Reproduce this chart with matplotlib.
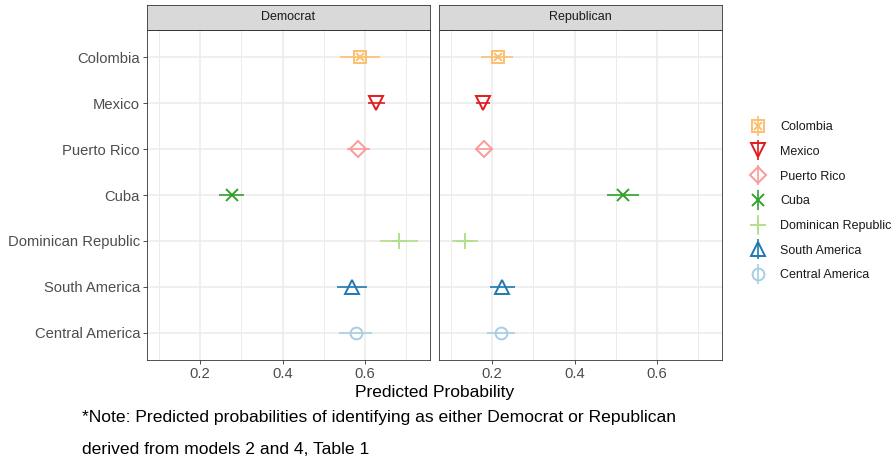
import numpy as np
import matplotlib
matplotlib.use("Agg")
import matplotlib.pyplot as plt
from matplotlib.lines import Line2D
from matplotlib.ticker import MultipleLocator

plt.rcParams['font.family'] = ['Liberation Sans', 'DejaVu Sans']

categories = ["Colombia", "Mexico", "Puerto Rico", "Cuba",
              "Dominican Republic", "South America", "Central America"]
panels = ["Democrat", "Republican"]

dem_est = [0.587, 0.626, 0.583, 0.277, 0.682, 0.568, 0.577]
dem_lo = [0.539, 0.608, 0.555, 0.247, 0.636, 0.532, 0.537]
dem_hi = [0.636, 0.648, 0.611, 0.306, 0.727, 0.605, 0.617]

rep_est = [0.214, 0.178, 0.180, 0.517, 0.134, 0.225, 0.222]
rep_lo = [0.174, 0.162, 0.161, 0.478, 0.103, 0.196, 0.189]
rep_hi = [0.252, 0.196, 0.200, 0.556, 0.166, 0.256, 0.256]

colors = ["#FDBF6F", "#E31A1C", "#FB9A99", "#33A02C", "#B2DF8A", "#1F78B4", "#A6CEE3"]
markers = [["s", "x"], ["v"], ["D"], ["x"], ["+"], ["^"], ["o"]]
msizes = [[8, 5.5], [10], [8], [9], [12], [10], [8.5]]

W, H = 896, 461
fig = plt.figure(figsize=(W / 100, H / 100), dpi=100)

def fx(px):
    return px / W

def fy(py):
    return 1 - py / H

panel_x = [147, 439]
panel_w = 283
top, bottom = 30, 360
strip_top = 5

data = [(dem_est, dem_lo, dem_hi), (rep_est, rep_lo, rep_hi)]
y = np.arange(len(categories))
axes = []
for i, (name, (est, lo, hi)) in enumerate(zip(panels, data)):
    ax = fig.add_axes([fx(panel_x[i]), fy(bottom), panel_w / W, (bottom - top) / H])
    axes.append(ax)
    ax.set_xlim(0.072, 0.757)
    ax.set_ylim(len(categories) - 1 + 0.6, -0.6)
    ax.xaxis.set_major_locator(MultipleLocator(0.2))
    ax.xaxis.set_minor_locator(MultipleLocator(0.1))
    ax.set_xticks([0.2, 0.4, 0.6])
    ax.set_xticklabels(["0.2", "0.4", "0.6"])
    ax.set_yticks(y)
    ax.grid(True, which="major", color="#EBEBEB", linewidth=1.1, zorder=0)
    ax.grid(True, which="minor", axis="x", color="#EBEBEB", linewidth=0.7, zorder=0)
    ax.set_axisbelow(True)
    for sp in ax.spines.values():
        sp.set_color("#333333")
        sp.set_linewidth(0.6)
    ax.tick_params(axis="both", which="major", length=3, width=0.6, color="#333333",
                   labelcolor="#4D4D4D", labelsize=10.6, pad=2)
    ax.tick_params(axis="x", which="minor", length=0)
    if i == 0:
        ax.set_yticklabels(categories)
    else:
        ax.set_yticklabels([])
        ax.tick_params(axis="y", length=0)
    for j in range(len(categories)):
        ax.hlines(y[j], lo[j], hi[j], color=colors[j], linewidth=1.2, zorder=3)
        for m, s in zip(markers[j], msizes[j]):
            ax.plot(est[j], y[j], marker=m, markersize=s, linestyle="None",
                    markerfacecolor="none", markeredgecolor=colors[j],
                    markeredgewidth=1.4, zorder=4)
    # strip
    sax = fig.add_axes([fx(panel_x[i]), fy(top), panel_w / W, (top - strip_top) / H])
    sax.set_facecolor("#D9D9D9")
    sax.set_xticks([])
    sax.set_yticks([])
    for sp in sax.spines.values():
        sp.set_color("#333333")
        sp.set_linewidth(0.6)
    sax.text(0.5, 0.5, name, ha="center", va="center", fontsize=9, color="#1A1A1A",
             transform=sax.transAxes)

fig.text(fx((147 + 722) / 2), fy(393), "Predicted Probability", ha="center", va="center",
         fontsize=12.5, color="black")

note1 = "*Note: Predicted probabilities of identifying as either Democrat or Republican"
note2 = "derived from models 2 and 4, Table 1"
t1 = fig.text(fx(82), fy(417), note1, ha="left", va="center", fontsize=12, color="black")
t2 = fig.text(fx(82), fy(449), note2, ha="left", va="center", fontsize=12, color="black")
fig.canvas.draw()
w = t1.get_window_extent().width
fs = 12 * 596 / w
t1.set_fontsize(fs)
t2.set_fontsize(fs)

handles = []
for j in range(len(categories)):
    parts = [Line2D([], [], marker="|", markersize=14, markeredgewidth=1.2,
                    color=colors[j], linestyle="None")]
    for m, s in zip(markers[j], msizes[j]):
        parts.append(Line2D([], [], marker=m, markersize=s, linestyle="None",
                            markerfacecolor="none", markeredgecolor=colors[j],
                            markeredgewidth=1.4))
    handles.append(tuple(parts))

leg = fig.legend(handles, categories, loc="upper left",
                 bbox_to_anchor=(fx(748), fy(121)), frameon=False, fontsize=9,
                 handlelength=1.6, handletextpad=0.95, labelspacing=1.02,
                 borderaxespad=0, borderpad=0)
for t in leg.get_texts():
    t.set_color("#1A1A1A")

fig.savefig("out.png", dpi=100)
